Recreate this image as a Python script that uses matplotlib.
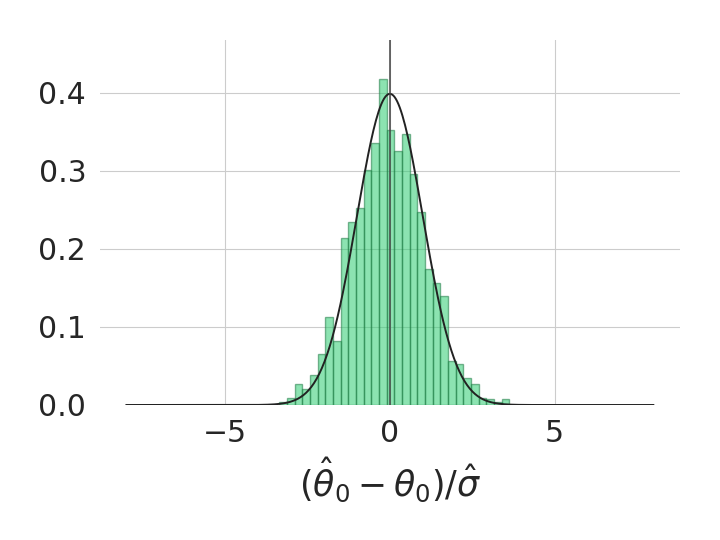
import numpy as np
import matplotlib
matplotlib.use("Agg")
import matplotlib.pyplot as plt

# histogram of the standardised estimates (density, 30 bins)
bin_left = -3.354
bin_width = 0.2327
density = [0.0043, 0.0086, 0.0265, 0.0200, 0.0387, 0.0660, 0.1130, 0.0825,
           0.2140, 0.2350, 0.2520, 0.3010, 0.3355, 0.4180, 0.3530, 0.3260,
           0.3480, 0.2960, 0.2480, 0.1740, 0.1570, 0.1395, 0.0570, 0.0520,
           0.0350, 0.0265, 0.0086, 0.0077, 0.0043, 0.0077]

# standard normal reference curve
grid_x = np.linspace(-8, 8, 400)
pdf = np.exp(-grid_x ** 2 / 2) / np.sqrt(2 * np.pi)

edges = bin_left + bin_width * np.arange(len(density) + 1)

plt.rcParams['font.family'] = ['DejaVu Sans']
fig = plt.figure(figsize=(7.2, 5.4), dpi=100)
ax = fig.add_axes([0.139, 0.25, 0.805, 0.676])

ax.bar(edges[:-1], density, width=bin_width, align='edge',
       color='#2ecc71', alpha=0.55, edgecolor='#1e7a43', linewidth=1.0, zorder=2)
ax.plot(grid_x, pdf, color='#222222', lw=1.4, zorder=3)
ax.axvline(0, color='#444444', lw=1.1, zorder=4)

ax.set_xlim(-8.8, 8.8)
ax.set_ylim(0, 0.468)
ax.set_xticks([-5, 0, 5])
ax.set_yticks([0.0, 0.1, 0.2, 0.3, 0.4])
ax.set_yticklabels(['0.0', '0.1', '0.2', '0.3', '0.4'])

ax.grid(True, color='#cccccc', lw=0.8, zorder=0)
ax.set_axisbelow(True)
ax.yaxis.get_gridlines()[0].set_visible(False)
for s in ax.spines.values():
    s.set_visible(False)

ax.tick_params(axis='both', length=0, labelsize=21.5, colors='#262626')
ax.tick_params(axis='x', pad=10)
ax.tick_params(axis='y', pad=10)
ax.set_xlabel(r'$(\hat{\theta}_0 - \theta_0)/\hat{\sigma}$', fontsize=25,
              color='#262626', labelpad=6)

fig.savefig('out.png', dpi=100, facecolor='white')
